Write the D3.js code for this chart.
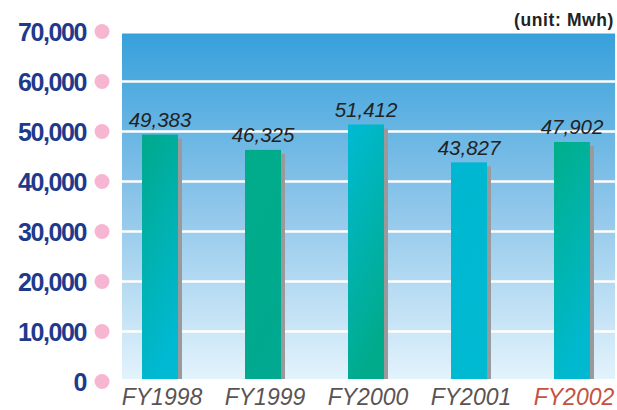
<!DOCTYPE html>
<html>
<head>
<meta charset="utf-8">
<script src="https://cdn.jsdelivr.net/npm/d3@7/dist/d3.min.js"></script>
<style>
  html, body { margin: 0; padding: 0; background: #fff; }
  svg { display: block; }
</style>
</head>
<body>
<div id="chart"></div>
<script>
'use strict';

const years = ['FY1998', 'FY1999', 'FY2000', 'FY2001', 'FY2002'];
const output = [49383, 46325, 51412, 43827, 47902];
const yTicks = [0, 10000, 20000, 30000, 40000, 50000, 60000, 70000];

// top / bottom tone of each bar's gradient
const barTones = [
  ['#00a98a', '#00b9d2'],
  ['#00ad8a', '#00a98f'],
  ['#00bad4', '#00ab8c'],
  ['#00b6d0', '#00bad2'],
  ['#00ae88', '#00b9d0']
];

const width = 617, height = 410;
const plot = { left: 122, right: 615, top: 33.5, bottom: 379 };
const barWidth = 36;

const svg = d3.select('#chart').append('svg')
  .attr('width', width)
  .attr('height', height);

const defs = svg.append('defs');

const bg = defs.append('linearGradient')
  .attr('id', 'bg')
  .attr('x1', 0).attr('y1', 0).attr('x2', 0).attr('y2', 1);
bg.append('stop').attr('offset', '0%').attr('stop-color', '#37a0db');
bg.append('stop').attr('offset', '50%').attr('stop-color', '#8ec6ea');
bg.append('stop').attr('offset', '100%').attr('stop-color', '#e3f3fc');

barTones.forEach((tone, i) => {
  const g = defs.append('linearGradient')
    .attr('id', `bar${i}`)
    .attr('x1', 0).attr('y1', 0).attr('x2', 0.3).attr('y2', 1);
  g.append('stop').attr('offset', '0%').attr('stop-color', tone[0]);
  g.append('stop').attr('offset', '100%').attr('stop-color', tone[1]);
});

defs.append('clipPath').attr('id', 'plotClip')
  .append('rect')
  .attr('x', plot.left).attr('y', plot.top)
  .attr('width', plot.right - plot.left)
  .attr('height', plot.bottom - plot.top);

const y = d3.scaleLinear().domain([0, 70000]).range([381.5, 31.5]);
const x = d3.scalePoint().domain(years).range([160, 572]);

// plot background
svg.append('rect')
  .attr('x', plot.left).attr('y', plot.top)
  .attr('width', plot.right - plot.left)
  .attr('height', plot.bottom - plot.top)
  .attr('fill', 'url(#bg)');

const inner = svg.append('g').attr('clip-path', 'url(#plotClip)');

inner.selectAll('line.grid')
  .data(yTicks.filter(t => t > 0))
  .join('line')
  .attr('class', 'grid')
  .attr('x1', plot.left).attr('x2', plot.right)
  .attr('y1', d => y(d)).attr('y2', d => y(d))
  .attr('stroke', '#fff')
  .attr('stroke-width', 2.5);

// shadows
inner.selectAll('rect.shadow')
  .data(output)
  .join('rect')
  .attr('class', 'shadow')
  .attr('x', (d, i) => x(years[i]) - barWidth / 2 + 4)
  .attr('y', d => y(d) + 4)
  .attr('width', barWidth)
  .attr('height', d => plot.bottom - y(d) - 4)
  .attr('fill', '#9a9a9c');

inner.selectAll('rect.bar')
  .data(output)
  .join('rect')
  .attr('class', 'bar')
  .attr('x', (d, i) => x(years[i]) - barWidth / 2)
  .attr('y', d => y(d))
  .attr('width', barWidth)
  .attr('height', d => plot.bottom - y(d))
  .attr('fill', (d, i) => `url(#bar${i})`);

// value labels
svg.selectAll('text.value')
  .data(output)
  .join('text')
  .attr('class', 'value')
  .attr('x', (d, i) => x(years[i]))
  .attr('y', d => y(d) - 7.5)
  .attr('text-anchor', 'middle')
  .attr('font-family', 'Liberation Sans, Arial, sans-serif')
  .attr('font-style', 'italic')
  .attr('font-size', 20.5)
  .attr('fill', '#222')
  .text(d3.format(','));

// y axis: labels + pink dots
const yAxis = svg.append('g');
yAxis.selectAll('text')
  .data(yTicks)
  .join('text')
  .attr('x', 86)
  .attr('y', d => y(d))
  .attr('dy', '0.36em')
  .attr('text-anchor', 'end')
  .attr('font-family', 'Liberation Sans, Arial, sans-serif')
  .attr('font-weight', 'bold')
  .attr('font-size', 25)
  .attr('letter-spacing', -1.4)
  .attr('fill', '#1f3a8c')
  .text(d3.format(','));

yAxis.selectAll('circle')
  .data(yTicks)
  .join('circle')
  .attr('cx', 102)
  .attr('cy', d => y(d))
  .attr('r', 7.5)
  .attr('fill', '#f6b6d2');

// x axis labels
svg.selectAll('text.year')
  .data(years)
  .join('text')
  .attr('class', 'year')
  .attr('x', d => x(d) + 2)
  .attr('y', 405)
  .attr('text-anchor', 'middle')
  .attr('font-family', 'Liberation Sans, Arial, sans-serif')
  .attr('font-style', 'italic')
  .attr('font-size', 23)
  .attr('fill', d => d === 'FY2002' ? '#c4523e' : '#5b5353')
  .text(d => d);

svg.append('text')
  .attr('x', 614)
  .attr('y', 26)
  .attr('text-anchor', 'end')
  .attr('font-family', 'Liberation Sans, Arial, sans-serif')
  .attr('font-weight', 'bold')
  .attr('font-size', 17.5)
  .attr('letter-spacing', 0.6)
  .attr('fill', '#222')
  .text('(unit: Mwh)');
</script>
</body>
</html>
